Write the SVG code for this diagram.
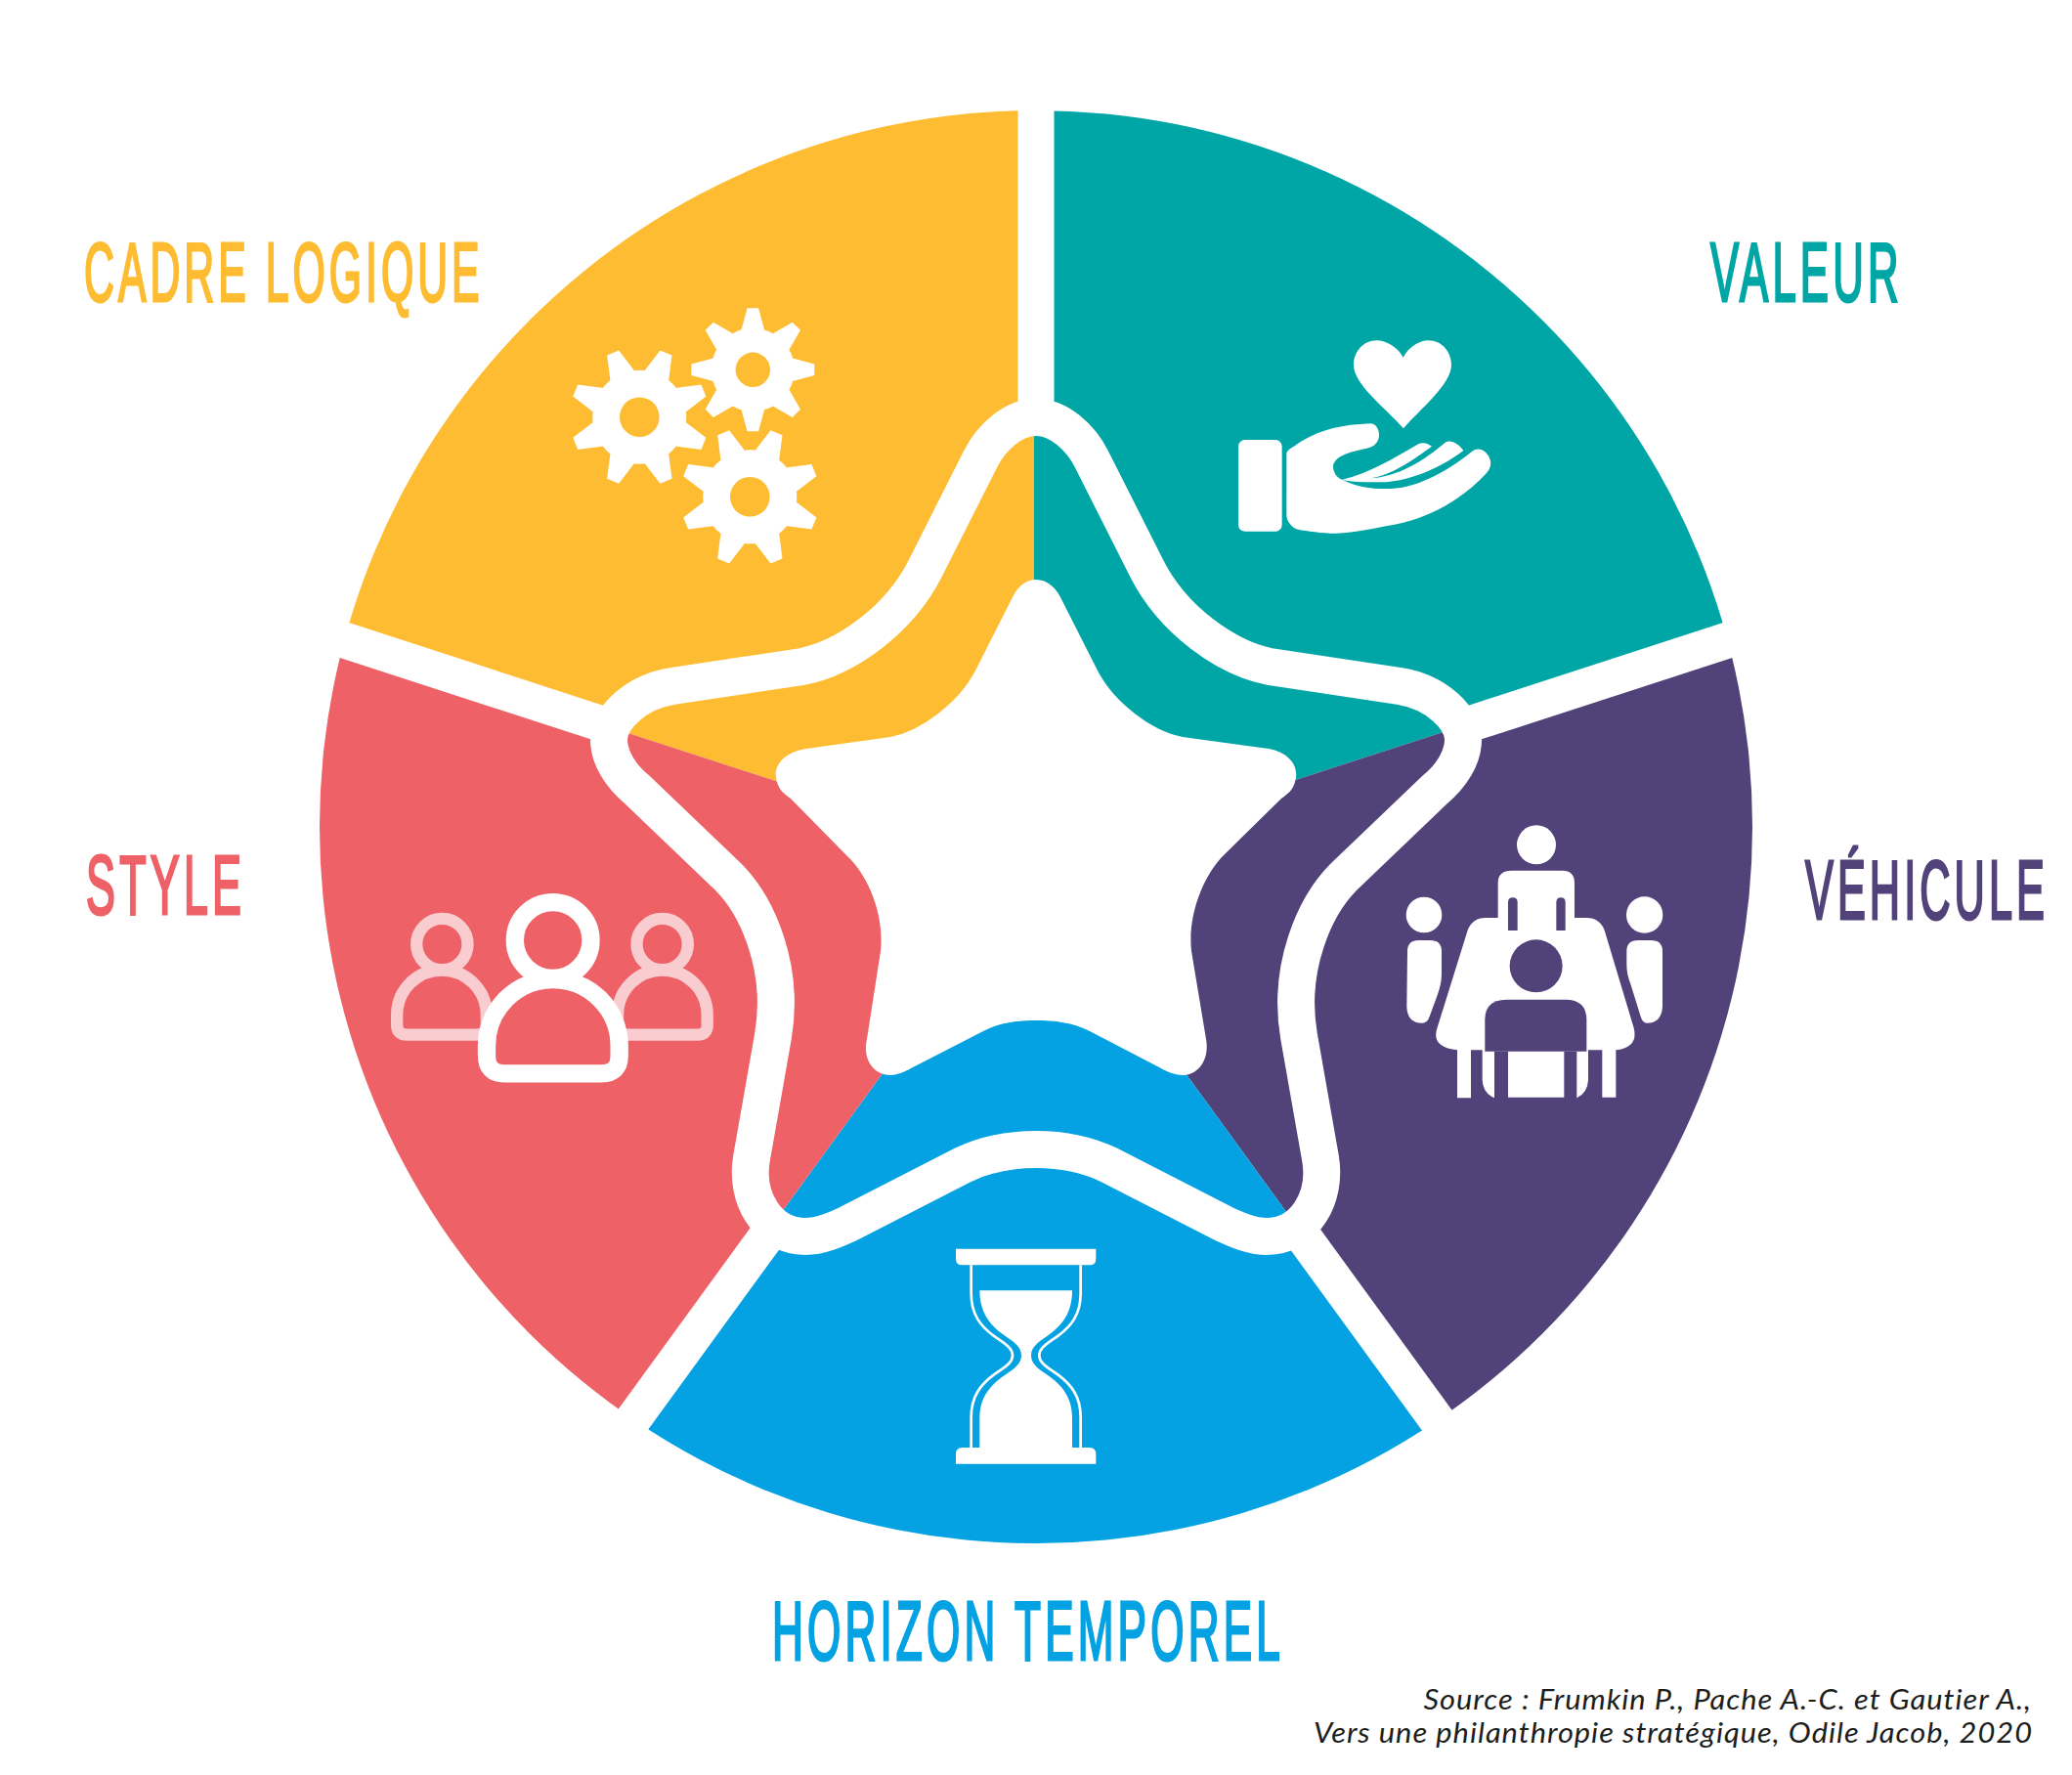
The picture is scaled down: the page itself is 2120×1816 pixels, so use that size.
<svg xmlns="http://www.w3.org/2000/svg" xmlns:xlink="http://www.w3.org/1999/xlink" width="2120" height="1816" viewBox="0 0 2120 1816">
<style>
.w{fill:#fff}
.lbl{font-family:"Liberation Sans",Arial,sans-serif;font-weight:400;font-size:85px;letter-spacing:8px;stroke-width:3px}
.src{font-family:Lato,"Open Sans",sans-serif;font-style:italic;font-size:28px;letter-spacing:.9px;fill:#1d1d1b;text-anchor:end}
.ray{stroke:#fff;stroke-width:37;fill:none}
</style>
<defs>
<clipPath id="disc"><circle cx="1060" cy="846" r="733"/></clipPath>
<polygon id="t" points="-71,-6.5 -47,-13 47,-13 71,-6.5 71,6.5 47,13 -47,13 -71,6.5"/>
<g id="gear"><circle r="48"/><use xlink:href="#t" href="#t"/><use xlink:href="#t" href="#t" transform="rotate(45)"/><use xlink:href="#t" href="#t" transform="rotate(90)"/><use xlink:href="#t" href="#t" transform="rotate(135)"/></g>
</defs>
<rect width="2120" height="1816" fill="#fff"/>
<g id="wheel" clip-path="url(#disc)">
<polygon id="sector-cadre" fill="#FDBC31" points="1058,885 12,545 12,-215 1058,-215"/>
<polygon id="sector-valeur" fill="#00A6A6" points="1058,885 1058,-215 2104,-215 2104,545"/>
<polygon id="sector-vehicule" fill="#514379" points="1058,885 2104,545 2104,1775 1705,1775"/>
<polygon id="sector-horizon" fill="#04A2E3" points="1058,885 1705,1775 411,1775"/>
<polygon id="sector-style" fill="#EE6167" points="1058,885 411,1775 12,1775 12,545"/>
</g>
<g id="connectors">
<path class="ray" d="M1060,430V90"/>
<path class="ray" d="M1497,743L2106,545"/>
<path class="ray" d="M1330.5,1261L1704.5,1775"/>
<path class="ray" d="M787,1261L413,1775"/>
<path class="ray" d="M623,743L14,545"/>
<path id="band" fill="none" stroke="#fff" stroke-width="38" stroke-linejoin="round" d="M1060,427 C1036,427 1014,448 1003,470 L947,581 C920,635 865,673 821,682 L688,702 C650,708 623,735 623,757 C623,775 635,794 652,808 L745,897 C775,927 803,990 791,1060 L769,1185 C762,1225 785,1265 824,1265 C840,1265 855,1258 868,1252 L985,1192 C1010,1180 1035,1176 1060,1176 C1085,1176 1110,1180 1135,1192 L1252,1252 C1265,1258 1280,1265 1296,1265 C1335,1265 1358,1225 1351,1185 L1329,1060 C1317,990 1345,927 1375,897 L1468,808 C1485,794 1497,775 1497,757 C1497,735 1470,708 1432,702 L1299,682 C1255,673 1200,635 1173,581 L1117,470 C1106,448 1084,427 1060,427 Z"/>
</g>
<g id="star"><path class="w" d="M1060,593 C1072,593 1081,602 1086,613 L1124,688 C1140,718 1178,748 1210,754 L1298,766 C1320,770 1330,785 1325,800 C1323,808 1318,812 1311,817 L1252,875 C1232,895 1215,935 1219,973 L1234,1063 C1238,1085 1225,1100 1210,1100 C1203,1100 1195,1097 1188,1093 L1115,1055 C1098,1046 1078,1044 1060,1044 C1042,1044 1022,1046 1006,1055 L932,1093 C925,1097 917,1100 911,1100 C895,1100 882,1085 887,1063 L901,973 C905,935 888,895 866,875 L809,817 C802,812 797,808 795,800 C790,785 800,770 825,766 L911,754 C943,748 981,718 997,688 L1035,613 C1040,602 1048,593 1060,593 Z"/></g>
<g id="icon-gears" class="w">
<use xlink:href="#gear" href="#gear" transform="translate(654.3 426.7) rotate(22.5)"/>
<use xlink:href="#gear" href="#gear" transform="translate(770.3 378.3) scale(.887)"/>
<use xlink:href="#gear" href="#gear" transform="translate(767.3 508.3) rotate(22.5)"/>
<g fill="#FDBC31"><circle cx="654.3" cy="426.7" r="20.3"/><circle cx="770.3" cy="378.3" r="17.7"/><circle cx="767.3" cy="508.3" r="20.3"/></g>
</g>
<g id="icon-hand" class="w" transform="translate(1240 330) scale(.33333)">
<path d="M587,107 C570,75 535,55 505,55 C465,55 435,90 435,130 C435,190 530,260 588,325 C640,265 735,190 735,130 C735,90 705,55 665,55 C635,55 605,75 587,107 Z"/>
<rect x="81" y="360" width="134" height="281" rx="20"/>
<path d="M229,400 C235,388 245,385 255,378 C310,340 370,315 485,310 C505,310 513,330 513,345 C513,365 500,380 480,385 C440,395 372,405 372,445 C375,465 385,478 400,482 C480,465 560,415 635,372 C650,366 665,372 675,380 C620,420 550,470 485,478 C570,475 650,425 718,367 C735,358 760,375 772,393 C690,455 590,490 520,490 C470,490 430,490 400,482 C440,505 500,512 550,510 C640,505 730,450 795,398 C815,382 835,388 848,408 C862,430 855,450 840,465 C770,540 670,600 560,620 C500,630 440,645 380,647 C340,647 290,640 265,635 C245,630 229,610 229,590 Z"/>
</g>
<g id="icon-meeting" class="w" transform="translate(1410 830) scale(.33333)">
<circle cx="486" cy="103" r="60"/><circle cx="141" cy="318" r="55"/><circle cx="818" cy="318" r="56"/>
<path d="M90,430 Q90,396 125,396 H160 Q195,396 195,430 V500 Q195,530 180,570 L158,630 Q152,650 135,650 Q90,650 88,600 Z"/>
<path d="M763,430 Q763,396 798,396 H838 Q873,396 873,430 V600 Q870,650 825,650 Q812,650 806,630 L775,530 Q763,500 763,470 Z"/>
<path d="M368,327 V220 Q368,182 410,182 H565 Q603,182 603,220 V327 H640 Q680,327 695,365 L785,665 Q800,725 730,733 V878 H688 V733 H645 V825 Q643,865 610,880 V737 H571 V878 H399 V737 H357 V880 Q322,865 320,825 V733 H285 V880 H243 V733 Q165,725 180,670 L275,365 Q290,327 330,327 Z"/>
<g fill="#514379">
<path d="M399,366 V280 Q399,265 413,265 Q428,265 428,280 V366 Z"/>
<path d="M547,366 V280 Q547,265 561,265 Q575,265 575,280 V366 Z"/>
<circle cx="485" cy="475" r="81"/>
<path d="M328,737 V640 Q328,578 395,578 H575 Q640,578 640,640 V737 Z"/>
</g>
</g>
<g id="icon-people" transform="translate(390 900) scale(.33333)" fill="none">
<g stroke="#F9CDD0" stroke-width="37">
<circle cx="187" cy="198" r="78.5"/><circle cx="863" cy="198" r="78.5"/>
<path d="M48.5,415 A137.5,137.5 0 0 1 323.5,415 V446 Q323.5,476 293,476 H79 Q48.5,476 48.5,446 Z"/>
<path d="M726,415 A137.5,137.5 0 0 1 1001,415 V446 Q1001,476 971,476 H756 Q726,476 726,446 Z"/>
</g>
<g stroke="#fff" stroke-width="55">
<circle cx="527" cy="186" r="116.5"/>
<path d="M324,510 A203.5,203.5 0 0 1 731,510 V540 Q731,595 676,595 H379 Q324,595 324,540 Z"/>
</g>
</g>
<g id="icon-hourglass" class="w" transform="translate(960 1260) scale(.33333)">
<path d="M54,53 H484 V83 Q484,103 464,103 H74 Q54,103 54,83 Z"/>
<path d="M54,713 H484 V683 Q484,663 464,663 H74 Q54,663 54,683 Z"/>
<path d="M127,181 H411 C411,250 380,290 335,320 C305,340 285,355 285,380 C285,405 305,420 335,440 C380,470 411,510 411,570 V663 H127 V570 C127,510 160,470 205,440 C235,420 255,405 255,380 C255,355 235,340 205,320 C160,290 127,250 127,181 Z"/>
<g fill="none" stroke="#fff" stroke-width="8">
<path d="M101,103 V190 C101,255 130,290 170,320 C200,342 228,355 228,380 C228,405 200,418 170,440 C130,470 101,505 101,570 V663"/>
<path d="M437,103 V190 C437,255 408,290 368,320 C338,342 310,355 310,380 C310,405 338,418 368,440 C408,470 437,505 437,570 V663"/>
</g>
</g>
<g id="labels">
<text class="lbl" transform="translate(86 308) scale(.503 1)" fill="#FDBC31" stroke="#FDBC31">CADRE LOGIQUE</text>
<text class="lbl" transform="translate(1750 308) scale(.515 1)" fill="#00A6A6" stroke="#00A6A6">VALEUR</text>
<text class="lbl" transform="translate(88 935) scale(.528 1)" fill="#EE6167" stroke="#EE6167">STYLE</text>
<text class="lbl" transform="translate(1847 940) scale(.509 1)" fill="#514379" stroke="#514379">VÉHICULE</text>
<text class="lbl" transform="translate(790 1698) scale(.519 1)" fill="#04A2E3" stroke="#04A2E3">HORIZON TEMPOREL</text>
<text class="src" transform="translate(2079 1749) scale(1.1 1)">Source : Frumkin P., Pache A.-C. et Gautier A.,</text>
<text class="src" transform="translate(2080 1783) scale(1.1 1)">Vers une philanthropie stratégique, Odile Jacob, 2020</text>
</g>
</svg>
